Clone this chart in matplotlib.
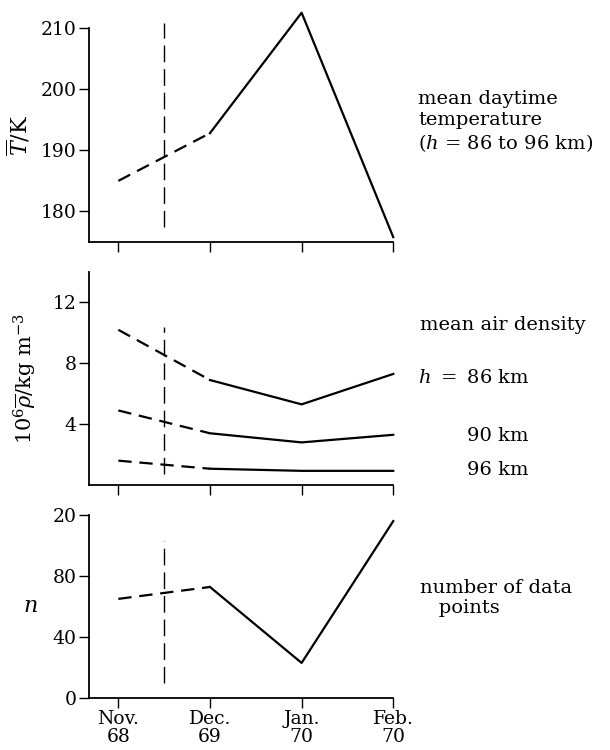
import matplotlib
matplotlib.use("Agg")
import matplotlib.pyplot as plt

plt.rcParams['font.family'] = ['DejaVu Serif']
plt.rcParams['mathtext.fontset'] = 'dejavuserif'

# ── data ───────────────────────────────────────────────────────────────────
months = ['Nov.\n68', 'Dec.\n69', 'Jan.\n70', 'Feb.\n70']
x = [0, 1, 2, 3]

temp = [185.0, 192.8, 212.5, 175.8]          # mean daytime T / K
rho_86 = [10.2, 6.9, 5.3, 7.3]               # 10^6 rho / kg m^-3
rho_90 = [4.9, 3.4, 2.8, 3.3]
rho_96 = [1.6, 1.07, 0.93, 0.93]
n_pts = [65, 72.8, 23, 116]                  # number of data points

t_ticks = [180, 190, 200, 210]
rho_ticks = [4, 8, 12]
n_ticks = [0, 40, 80, 120]
n_ticklabels = ['0', '40', '80', '20']       # top label printed as in the original

split_x = 0.5                                 # vertical marker between Nov and Dec
t_split = (177.5, 210.8)
rho_split = (0.73, 10.4)
n_split = (10, 103)

W, H = 610, 750
fig = plt.figure(figsize=(W / 100, H / 100), dpi=100)

def make_ax(top_px, bottom_px):
    left, right = 89, 396
    return fig.add_axes([left / W, 1 - bottom_px / H,
                         (right - left) / W, (bottom_px - top_px) / H])

def style(ax, ylim):
    ax.set_xlim(-0.32, 3.03)
    ax.set_ylim(*ylim)
    ax.spines['top'].set_visible(False)
    ax.spines['right'].set_visible(False)
    ax.spines['bottom'].set_bounds(-0.32, 3.0)
    for s in ('left', 'bottom'):
        ax.spines[s].set_linewidth(1.3)
    ax.tick_params(direction='out', length=7, width=1.0, labelsize=13.5, pad=2)
    ax.set_xticks(x)
    ax.patch.set_alpha(0)

def draw_series(ax, y):
    # dashed Nov -> Dec, solid afterwards
    ax.plot(x[:2], y[:2], color='black', lw=1.6, dashes=(6, 3.5),
            clip_on=False)
    ax.plot(x[1:], y[1:], color='black', lw=1.6, clip_on=False)

def draw_split(ax, ylo, yhi):
    ax.plot([split_x, split_x], [ylo, yhi], color='black', lw=1.0,
            dashes=(12, 5), clip_on=False)

# ── top: temperature ───────────────────────────────────────────────────────
ax1 = make_ax(28, 242)
style(ax1, (175, 210))
ax1.set_yticks(t_ticks)
ax1.set_xticklabels([])
draw_series(ax1, temp)
draw_split(ax1, *t_split)
ax1.set_ylabel(r'$\overline{T}$/K', fontsize=16, labelpad=6)

# ── middle: air density ────────────────────────────────────────────────────
ax2 = make_ax(272, 485)
style(ax2, (0, 14))
ax2.set_yticks(rho_ticks)
ax2.set_xticklabels([])
for series in (rho_86, rho_90, rho_96):
    draw_series(ax2, series)
draw_split(ax2, *rho_split)
ax2.set_ylabel(r'$10^6\overline{\rho}$/kg m$^{-3}$', fontsize=15, labelpad=10)

# ── bottom: number of data points ─────────────────────────────────────────
ax3 = make_ax(515, 698)
style(ax3, (0, 120))
ax3.set_yticks(n_ticks)
ax3.set_yticklabels(n_ticklabels)
ax3.set_xticklabels(months, linespacing=0.95)
draw_series(ax3, n_pts)
draw_split(ax3, *n_split)
ax3.set_ylabel(r'$n$', fontsize=16, rotation=0, labelpad=16, va='center')

# ── annotations on the right ──────────────────────────────────────────────
txt = dict(fontsize=14, ha='left', va='center', transform=fig.transFigure)
fig.text(418 / W, 1 - 122 / H,
         'mean daytime\ntemperature\n($h$ = 86 to 96 km)',
         linespacing=1.2, **txt)
fig.text(420 / W, 1 - 325 / H, 'mean air density', **txt)
fig.text(418 / W, 1 - 378 / H, r'$h\ =\ $86 km', **txt)
fig.text(467 / W, 1 - 436 / H, '90 km', **txt)
fig.text(467 / W, 1 - 470 / H, '96 km', **txt)
fig.text(420 / W, 1 - 598 / H, 'number of data\n   points',
         linespacing=1.2, **txt)

fig.savefig('out.png', dpi=100, facecolor='white')
